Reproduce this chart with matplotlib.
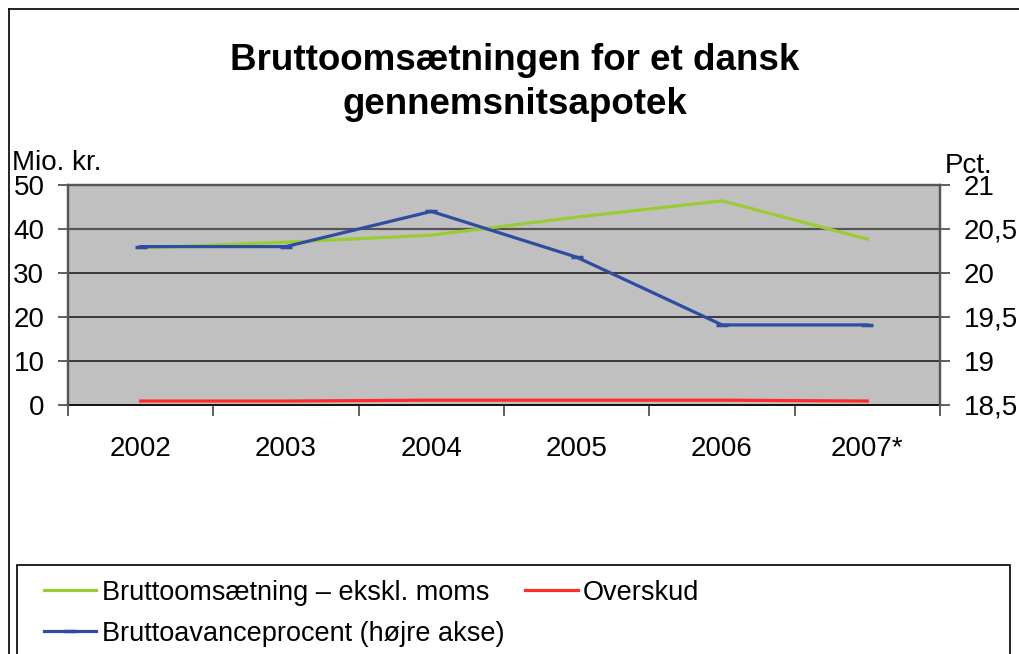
import matplotlib.pyplot as plt
from matplotlib.lines import Line2D
from matplotlib.patches import Rectangle
import numpy as np

plt.rcParams['font.family'] = ['Liberation Sans', 'DejaVu Sans']

years = ['2002', '2003', '2004', '2005', '2006', '2007*']
omsaetning = [35.7, 37.0, 38.6, 42.7, 46.4, 37.7]
overskud = [0.9, 0.9, 1.1, 1.1, 1.1, 0.9]
avance = [20.3, 20.3, 20.7, 20.18, 19.41, 19.41]

green = '#99CC33'
red = '#FF2A2A'
blue = '#2E4DA0'

fig = plt.figure(figsize=(10.2, 6.54), dpi=100)
ax = fig.add_axes([68/1020, 1-405/654, 872/1020, 220/654])
ax2 = ax.twinx()

x = np.arange(len(years))
ax.set_facecolor('#C0C0C0')
l1, = ax.plot(x, omsaetning, color=green, lw=2.3)
l2, = ax.plot(x, overskud, color=red, lw=2.3)
l3, = ax2.plot(x, avance, color=blue, lw=2.3, marker='_', ms=9, mew=2.5)

ax.set_xlim(-0.5, 5.5)
ax.set_ylim(0, 50)
ax2.set_ylim(18.5, 21)
ax.set_yticks([0, 10, 20, 30, 40, 50])
ax2.set_yticks([18.5, 19, 19.5, 20, 20.5, 21])
ax2.set_yticklabels(['18,5', '19', '19,5', '20', '20,5', '21'])
ax.set_xticks(x)
ax.set_xticklabels(years)
ax.set_xticks(np.arange(-0.5, 6, 1), minor=True)
ax.tick_params(axis='x', which='major', length=0, pad=22, labelsize=20)
ax.tick_params(axis='x', which='minor', length=8, width=1.2, color='#444444')
ax.tick_params(axis='y', length=7, width=1.2, color='#444444', labelsize=20, pad=10)
ax2.tick_params(axis='y', length=7, width=1.2, color='#444444', labelsize=20, pad=10)

for v in [10, 20, 30, 40]:
    ax.axhline(v, color='#222222' if v < 40 else '#555555', lw=1.2 if v < 40 else 1.6, zorder=1)
for s in ['left', 'right', 'top']:
    ax.spines[s].set_color('#555555')
    ax.spines[s].set_linewidth(1.6)
    ax2.spines[s].set_color('#555555')
    ax2.spines[s].set_linewidth(1.6)
ax.spines['bottom'].set_color('#111111')
ax.spines['bottom'].set_linewidth(1.4)
ax2.spines['bottom'].set_visible(False)

fig.text(0.505, 1-60/654, 'Bruttoomsætningen for et dansk', ha='center', va='center',
         fontsize=26.5, fontweight='bold')
fig.text(0.505, 1-105/654, 'gennemsnitsapotek', ha='center', va='center',
         fontsize=26.5, fontweight='bold')
fig.text(12/1020, 1-163/654, 'Mio. kr.', ha='left', va='center', fontsize=20)
fig.text(945/1020, 1-166/654, 'Pct.', ha='left', va='center', fontsize=20)

# outer chart frame
fig.add_artist(Line2D([9/1020, 9/1020], [0, 1-9/654], color='black', lw=1.2))
fig.add_artist(Line2D([9/1020, 1], [1-9/654, 1-9/654], color='black', lw=1.2))

# legend box
fig.add_artist(Rectangle((17/1020, -0.05), 993/1020, 0.05+1-565/654, fill=False,
                         edgecolor='black', lw=1.2, transform=fig.transFigure))
fig.legend([l1, l3, l2],
           ['Bruttoomsætning – ekskl. moms', 'Bruttoavanceprocent (højre akse)', 'Overskud'],
           ncol=2, loc='upper left', bbox_to_anchor=(22/1020, 1-558/654), frameon=False,
           fontsize=19.5, handlelength=1.95, handletextpad=0.2, columnspacing=0.75,
           labelspacing=0.55, borderpad=0.3)

fig.savefig('out.png', dpi=100)
